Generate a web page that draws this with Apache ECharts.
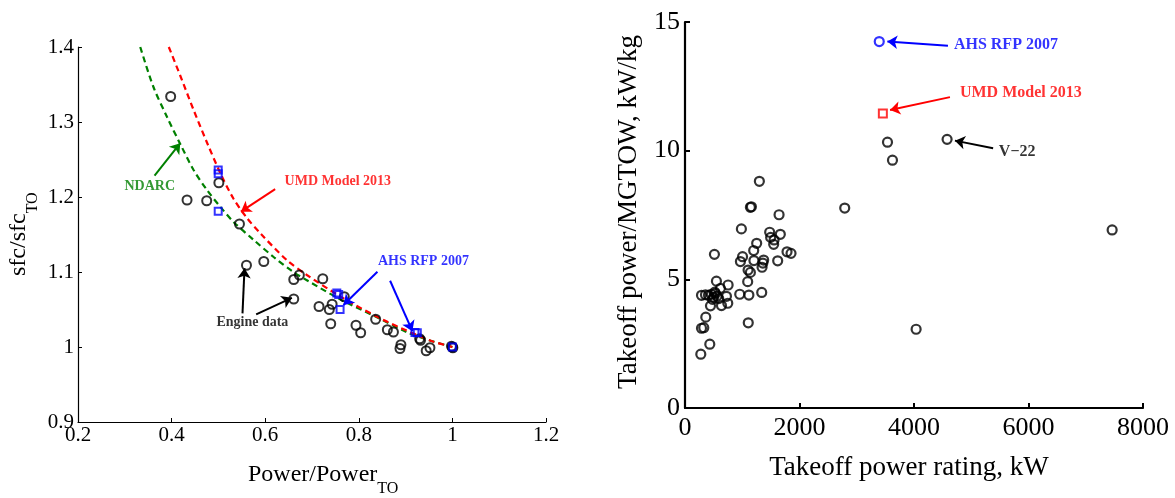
<!DOCTYPE html>
<html>
<head>
<meta charset="utf-8">
<script src="https://cdn.jsdelivr.net/npm/echarts@6/dist/echarts.min.js"></script>
<style>
  html, body { margin: 0; padding: 0; background: #fff; }
  #chart { width: 1175px; height: 498px; }
</style>
</head>
<body>
<div id="chart"></div>
<script>
const FONT = "'Liberation Serif', 'Times New Roman', serif";

// ---- Left panel: part-power fuel consumption ----
const enginePowerRatio = [0.398, 0.433, 0.475, 0.501, 0.545, 0.560, 0.597, 0.661, 0.673, 0.661,
  0.723, 0.715, 0.737, 0.743, 0.740, 0.769, 0.794, 0.804, 0.836, 0.861,
  0.874, 0.890, 0.888, 0.930, 0.932, 0.944, 0.952, 0.998, 1.000, 1.001];
const engineSfcRatio = [1.334, 1.196, 1.195, 1.219, 1.164, 1.109, 1.114, 1.090, 1.096, 1.064,
  1.091, 1.054, 1.050, 1.057, 1.031, 1.067, 1.029, 1.019, 1.037, 1.023,
  1.020, 1.003, 0.998, 1.011, 1.009, 0.995, 0.999, 1.001, 1.000, 0.999];

const ahsPowerRatio = [0.4996, 0.4996, 0.4996, 0.753, 0.757, 0.760, 0.920, 0.925, 1.000];
const ahsSfcRatio = [1.236, 1.231, 1.181, 1.072, 1.070, 1.050, 1.0195, 1.019, 1.000];

const ndarcPowerRatio = [0.333, 0.361, 0.390, 0.419, 0.447, 0.476, 0.504, 0.532, 0.575, 0.618,
  0.660, 0.689, 0.762, 0.831, 0.902, 0.950, 1.000];
const ndarcSfcRatio = [1.400, 1.347, 1.307, 1.270, 1.236, 1.209, 1.187, 1.167, 1.143, 1.120,
  1.100, 1.089, 1.063, 1.042, 1.020, 1.009, 1.000];

const umdPowerRatio = [0.394, 0.419, 0.447, 0.476, 0.504, 0.532, 0.561, 0.589, 0.646, 0.689,
  0.767, 0.853, 0.924, 0.960, 1.000];
const umdSfcRatio = [1.400, 1.361, 1.316, 1.272, 1.232, 1.198, 1.172, 1.152, 1.116, 1.096,
  1.065, 1.036, 1.016, 1.007, 1.000];

const leftXTicks = [0.2, 0.4, 0.6, 0.8, 1, 1.2];
const leftYTicks = [0.9, 1.0, 1.1, 1.2, 1.3, 1.4];

// ---- Right panel: power loading vs takeoff rating ----
const ratingKW = [276, 433, 288, 328, 363, 1105, 445, 637, 747, 288,
  358, 410, 460, 500, 530, 560, 590, 480, 520, 724,
  956, 1116, 1340, 619, 753, 549, 1095, 514, 968, 1005,
  1204, 1374, 1360, 1346, 1619, 1102, 1142, 1200, 1252, 1782,
  1852, 1549, 1479, 1665, 1496, 1556, 985, 1142, 1160, 1643,
  1299, 2790, 3537, 3624, 4578, 4037, 7461];
const powerToWeight = [2.09, 2.48, 3.10, 3.12, 3.53, 3.31, 3.97, 3.98, 4.07, 4.38,
  4.40, 4.38, 4.42, 4.30, 4.45, 4.35, 4.25, 4.22, 4.50, 4.34,
  4.42, 4.39, 4.49, 4.65, 4.78, 4.93, 4.91, 5.97, 5.69, 5.88,
  5.73, 5.75, 5.63, 5.47, 5.72, 5.36, 5.27, 6.12, 6.40, 6.07,
  6.01, 6.36, 6.83, 6.75, 6.63, 6.53, 6.96, 7.80, 7.82, 7.51,
  8.81, 7.77, 10.33, 9.63, 10.44, 3.06, 6.92];
const ahsRatingKW = [3393];
const ahsPowerToWeight = [14.24];
const umdRatingKW = [3456];
const umdPowerToWeight = [11.44];

const rightXTicks = [0, 2000, 4000, 6000, 8000];
const rightYTicks = [0, 5, 10, 15];

// Callouts, anchored in each panel's data space
const leftNotes = [
  { text: 'NDARC', color: '#008000', x: 0.3533, y: 1.2148, align: 'center',
    arrows: [[0.3636, 1.2285, 0.4185, 1.2718]] },
  { text: 'UMD Model 2013', color: '#ff0000', x: 0.7552, y: 1.2205, align: 'center',
    arrows: [[0.6213, 1.2104, 0.5481, 1.1804]] },
  { text: 'AHS RFP 2007', color: '#0000ff', x: 0.938, y: 1.1137, align: 'center',
    arrows: [[0.8398, 1.1003, 0.7672, 1.0559], [0.8669, 1.0883, 0.9145, 1.0211]] },
  { text: 'Engine data', color: '#000000', x: 0.5726, y: 1.0322, align: 'center',
    arrows: [[0.5515, 1.0448, 0.5558, 1.1049], [0.5807, 1.0434, 0.657, 1.0656]] }
];
const rightNotes = [
  { text: 'AHS RFP 2007', color: '#0000ff', x: 4697, y: 14.11, align: 'left',
    arrows: [[4593, 14.08, 3535, 14.24]] },
  { text: 'UMD Model 2013', color: '#ff0000', x: 4802, y: 12.25, align: 'left',
    arrows: [[4628, 12.08, 3582, 11.58]] },
  { text: 'V\u221222', color: '#000000', x: 5482, y: 9.96, align: 'left',
    arrows: [[5382, 10.09, 4715, 10.39]] }
];

const zip = (xs, ys) => xs.map((x, i) => [x, ys[i]]);
const fmt1 = v => String(+(+v).toFixed(1));
const fmtInt = v => String(Math.round(v));

function noteSeries(note, axisIndex, fontSize) {
  return {
    type: 'scatter',
    xAxisIndex: axisIndex, yAxisIndex: axisIndex,
    symbolSize: 0, silent: true, z: 6,
    itemStyle: { color: 'transparent' },
    data: [{
      value: [note.x, note.y],
      label: {
        show: true, position: [0, 0], formatter: note.text,
        align: note.align, verticalAlign: 'middle',
        color: note.color, fontFamily: FONT, fontWeight: 'bold', fontSize: fontSize
      }
    }],
    markLine: {
      silent: true, animation: false,
      symbol: ['none', 'arrow'], symbolSize: 10,
      label: { show: false },
      lineStyle: { type: 'solid', width: 2, color: note.color },
      itemStyle: { color: note.color },
      emphasis: { disabled: true },
      data: note.arrows.map(a => [{ coord: [a[0], a[1]] }, { coord: [a[2], a[3]] }])
    }
  };
}

const hollow = (color, width) => ({ color: 'transparent', borderColor: color, borderWidth: width });

const chart = echarts.init(document.getElementById('chart'), null, { renderer: 'canvas' });

const leftAxisCommon = {
  axisLine: { show: true, lineStyle: { color: '#000', width: 1.2 } },
  axisTick: { show: true, inside: true, length: 4, lineStyle: { color: '#000', width: 1 } },
  splitLine: { show: false },
  axisLabel: { color: '#000', fontFamily: FONT, fontSize: 21, formatter: fmt1 }
};
const rightAxisCommon = {
  axisLine: { show: true, lineStyle: { color: '#000', width: 2.2 } },
  axisTick: { show: true, inside: true, length: 5, lineStyle: { color: '#000', width: 2 } },
  splitLine: { show: false },
  axisLabel: { color: '#000', fontFamily: FONT, fontSize: 26, formatter: fmtInt }
};

chart.setOption({
  animation: false,
  backgroundColor: '#fff',
  textStyle: { fontFamily: FONT },
  grid: [
    { left: 78, top: 47, width: 468, height: 375 },
    { left: 685, top: 22, width: 458, height: 386 }
  ],
  xAxis: [
    Object.assign({ gridIndex: 0, type: 'value', min: leftXTicks[0], max: leftXTicks[leftXTicks.length - 1],
      interval: 0.2 }, leftAxisCommon,
      { axisLabel: Object.assign({}, leftAxisCommon.axisLabel, { margin: 3 }) }),
    Object.assign({ gridIndex: 1, type: 'value', min: rightXTicks[0], max: rightXTicks[rightXTicks.length - 1],
      interval: 2000 }, rightAxisCommon,
      { axisLabel: Object.assign({}, rightAxisCommon.axisLabel, { margin: 7 }) })
  ],
  yAxis: [
    Object.assign({ gridIndex: 0, type: 'value', min: leftYTicks[0], max: leftYTicks[leftYTicks.length - 1],
      interval: 0.1 }, leftAxisCommon,
      { axisLabel: Object.assign({}, leftAxisCommon.axisLabel, { margin: 4 }) }),
    Object.assign({ gridIndex: 1, type: 'value', min: rightYTicks[0], max: rightYTicks[rightYTicks.length - 1],
      interval: 5 }, rightAxisCommon,
      { axisLabel: Object.assign({}, rightAxisCommon.axisLabel, { margin: 5 }) })
  ],
  graphic: [
    { // left x-axis title with subscript
      type: 'text', x: 248, y: 463, z: 10, silent: true,
      style: {
        text: '{m|Power/Power}{s|TO}', align: 'left', verticalAlign: 'top', fill: '#000',
        rich: {
          m: { fontFamily: FONT, fontSize: 24, lineHeight: 34, verticalAlign: 'top' },
          s: { fontFamily: FONT, fontSize: 16, lineHeight: 34, verticalAlign: 'bottom' }
        }
      }
    },
    { // left y-axis title with subscript
      type: 'text', x: 7, y: 276, rotation: Math.PI / 2, z: 10, silent: true,
      style: {
        text: '{m|sfc/sfc}{s|TO}', align: 'left', verticalAlign: 'top', fill: '#000',
        rich: {
          m: { fontFamily: FONT, fontSize: 24, lineHeight: 34, verticalAlign: 'top' },
          s: { fontFamily: FONT, fontSize: 16, lineHeight: 34, verticalAlign: 'bottom' }
        }
      }
    },
    {
      type: 'text', x: 909, y: 468, z: 10, silent: true,
      style: { text: 'Takeoff power rating, kW', align: 'center', verticalAlign: 'middle',
        fill: '#000', fontFamily: FONT, fontSize: 27 }
    },
    {
      type: 'text', x: 629, y: 212, rotation: Math.PI / 2, z: 10, silent: true,
      style: { text: 'Takeoff power/MGTOW, kW/kg', align: 'center', verticalAlign: 'middle',
        fill: '#000', fontFamily: FONT, fontSize: 27 }
    }
  ],
  series: [
    {
      name: 'NDARC', type: 'line', xAxisIndex: 0, yAxisIndex: 0,
      data: zip(ndarcPowerRatio, ndarcSfcRatio), smooth: 0.3, showSymbol: false, silent: true, z: 3,
      lineStyle: { color: '#008000', width: 2.2, type: [6, 4] }
    },
    {
      name: 'UMD Model 2013', type: 'line', xAxisIndex: 0, yAxisIndex: 0,
      data: zip(umdPowerRatio, umdSfcRatio), smooth: 0.3, showSymbol: false, silent: true, z: 3,
      lineStyle: { color: '#ff0000', width: 2.2, type: [6, 4] }
    },
    {
      name: 'Engine data', type: 'scatter', xAxisIndex: 0, yAxisIndex: 0,
      data: zip(enginePowerRatio, engineSfcRatio), symbol: 'circle', symbolSize: 9, z: 4,
      itemStyle: hollow('#000', 2)
    },
    {
      name: 'AHS RFP 2007', type: 'scatter', xAxisIndex: 0, yAxisIndex: 0,
      data: zip(ahsPowerRatio, ahsSfcRatio), symbol: 'rect', symbolSize: 7, z: 5,
      itemStyle: hollow('#0000ff', 2)
    },
    {
      name: 'Rotorcraft', type: 'scatter', xAxisIndex: 1, yAxisIndex: 1,
      data: zip(ratingKW, powerToWeight), symbol: 'circle', symbolSize: 9, z: 4,
      itemStyle: hollow('#000', 2.2)
    },
    {
      name: 'AHS RFP 2007 (rating)', type: 'scatter', xAxisIndex: 1, yAxisIndex: 1,
      data: zip(ahsRatingKW, ahsPowerToWeight), symbol: 'circle', symbolSize: 9, z: 5,
      itemStyle: hollow('#0000ff', 2.2)
    },
    {
      name: 'UMD Model 2013 (rating)', type: 'scatter', xAxisIndex: 1, yAxisIndex: 1,
      data: zip(umdRatingKW, umdPowerToWeight), symbol: 'rect', symbolSize: 8, z: 5,
      itemStyle: hollow('#ff0000', 2)
    },
    ...leftNotes.map(n => noteSeries(n, 0, 14)),
    ...rightNotes.map(n => noteSeries(n, 1, 16))
  ]
});
</script>
</body>
</html>
